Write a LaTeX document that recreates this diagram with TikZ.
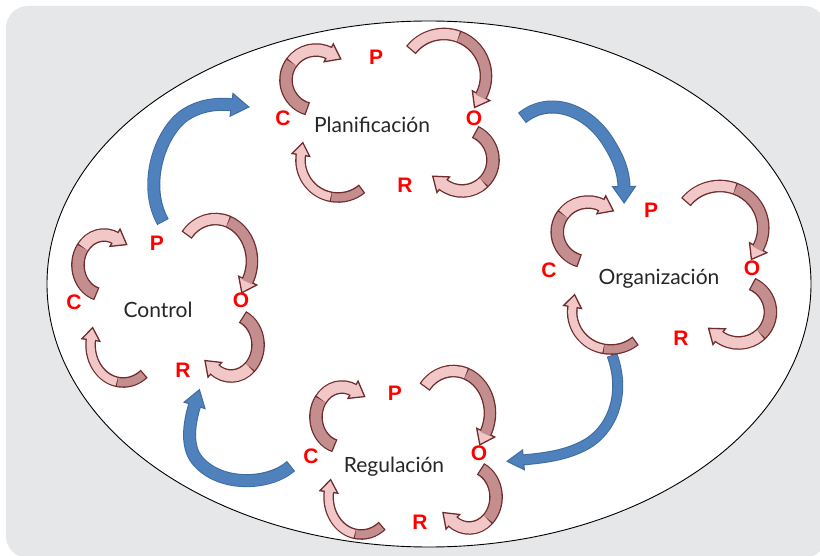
\documentclass[tikz,border=0pt]{standalone}
\usepackage{fontspec}
\setmainfont{Lato}
\newfontfamily\letterfont{Liberation Sans}
\usetikzlibrary{decorations.markings}

\definecolor{panelgray}{HTML}{E6E7E8}
\definecolor{ribline}{HTML}{6E2C2C}
\definecolor{ribdark}{HTML}{C48E8E}
\definecolor{riblight}{HTML}{F2C7C7}
\definecolor{flowblue}{HTML}{4F81BD}
\definecolor{flowline}{HTML}{3F6C9F}
\definecolor{letterred}{HTML}{FF0000}
\definecolor{textdark}{HTML}{262626}

% outline colour, head fill and outline width of the ribbon arrows
\def\ribedge{ribline}
\def\ribhead{riblight}
\def\ribw{1.3pt}

% ribbon arrow: #1 colour of tail part, #2 colour of head part, #3 band width,
% #4 head half width, #5 head length, #6 gap at the seam,
% #7 tail part of the path (with start point), #8 head part (continuation)
\newcommand\ribbon[8]{%
  \path[line cap=butt, line join=round,
    postaction={draw=\ribedge, line width=#3+2*\ribw},
    postaction={decorate, decoration={markings, mark=at position -0.5pt with {%
      \filldraw[fill=\ribhead, draw=\ribedge, line width=\ribw, line join=miter]
        (-1pt,#4) -- (#5+0.5pt,0pt) -- (-1pt,-#4) -- cycle;}}}]
    #7 coordinate (ribmid) #8;
  \draw[draw=#1, line width=#3, line cap=butt, shorten <=\ribw] #7;
  \draw[draw=#2, line width=#3, line cap=butt, shorten <=#6] (ribmid) #8;
}

% the four arrows of one P-O-R-C cycle, relative to its centre
\newcommand\cyclearrows{%
  \ribbon{ribdark}{riblight}{11pt}{10pt}{12pt}{0.9pt}
    {([shift={(106:30)}]-62,-41) arc[start angle=106,end angle=215,radius=30]}
    {arc[start angle=215,end angle=298,radius=30]}
  \ribbon{riblight}{ribdark}{10pt}{10pt}{12pt}{0.9pt}
    {([shift={(218:42)}]66,-45) arc[start angle=218,end angle=290,radius=42]}
    {arc[start angle=290,end angle=390,radius=42]}
  \ribbon{ribdark}{riblight}{11pt}{10pt}{12pt}{0.9pt}
    {([shift={(295:31)}]84,39) arc[start angle=295,end angle=405,radius=31]}
    {arc[start angle=405,end angle=490,radius=31]}
  \ribbon{ribdark}{riblight}{8pt}{9pt}{11pt}{0.9pt}
    {([shift={(50:37.5)}]-40,39) arc[start angle=50,end angle=100,radius=37.5]}
    {arc[start angle=100,end angle=190,radius=37.5]}
}

\begin{document}
\begin{tikzpicture}[x=1pt, y=-1pt,
  letter/.style={font=\letterfont\bfseries\fontsize{21}{21}\selectfont,
    text=letterred, inner sep=0pt},
  cyclename/.style={font=\fontsize{21}{24}\selectfont, text=textdark,
    inner sep=0pt, anchor=base}]
\useasboundingbox (0,0) rectangle (820,556);
\fill[white] (0,0) rectangle (820,556);
\fill[panelgray, rounded corners=22pt] (6,6) rectangle (826,558);
\draw[fill=white, line width=0.9pt] (429,284) ellipse [x radius=382, y radius=263];

% blue arrows linking the cycles
\begingroup
\def\ribedge{flowline}\def\ribhead{flowblue}\def\ribw{1pt}
\ribbon{flowblue}{flowblue}{11pt}{11.5pt}{16pt}{0pt}
  {(163,222) .. controls (142,185) and (160,132) .. (185,115)}
  {.. controls (200,105) and (218,103) .. (233,105)}
\ribbon{flowblue}{flowblue}{11pt}{11.5pt}{15pt}{0pt}
  {(522,118) .. controls (550,95) and (590,110) .. (610,145)}
  {.. controls (618,158) and (624,172) .. (624,188)}
\ribbon{flowblue}{flowblue}{9pt}{10pt}{15pt}{0pt}
  {(612,355) .. controls (625,390) and (615,425) .. (590,442)}
  {.. controls (570,455) and (545,458) .. (522,460)}
\ribbon{flowblue}{flowblue}{11pt}{11pt}{15pt}{0pt}
  {(291,466) .. controls (270,485) and (220,488) .. (197,460)}
  {.. controls (185,445) and (190,420) .. (195,404)}
\endgroup

% the four cycles
\begin{scope}[shift={(378,121)}] \cyclearrows \end{scope}
\begin{scope}[shift={(652,273)}, xscale=1.03] \cyclearrows \end{scope}
\begin{scope}[shift={(158,306)}, xscale=0.87] \cyclearrows \end{scope}
\begin{scope}[shift={(396,458)}, xscale=0.87] \cyclearrows \end{scope}

% Planificacion
\node[letter] (c1P) at (376,57) {P};
\node[letter] (c1O) at (474,118) {O};
\node[letter] (c1R) at (405,185) {R};
\node[letter] (c1C) at (283,118) {C};
\node[cyclename] (c1) at (372,133) {Planificación};
% Organizacion
\node[letter] (c2P) at (651,210) {P};
\node[letter] (c2O) at (752,268) {O};
\node[letter] (c2R) at (681,338) {R};
\node[letter] (c2C) at (549,270) {C};
\node[cyclename] (c2) at (659,285) {Organización};
% Control
\node[letter] (c3P) at (157,243) {P};
\node[letter] (c3O) at (241,300) {O};
\node[letter] (c3R) at (183,370) {R};
\node[letter] (c3C) at (74,302) {C};
\node[cyclename] (c3) at (158,318) {Control};
% Regulacion
\node[letter] (c4P) at (395,393) {P};
\node[letter] (c4O) at (479,453) {O};
\node[letter] (c4R) at (420,522) {R};
\node[letter] (c4C) at (311,456) {C};
\node[cyclename] (c4) at (394,472) {Regulación};
\end{tikzpicture}
\end{document}
